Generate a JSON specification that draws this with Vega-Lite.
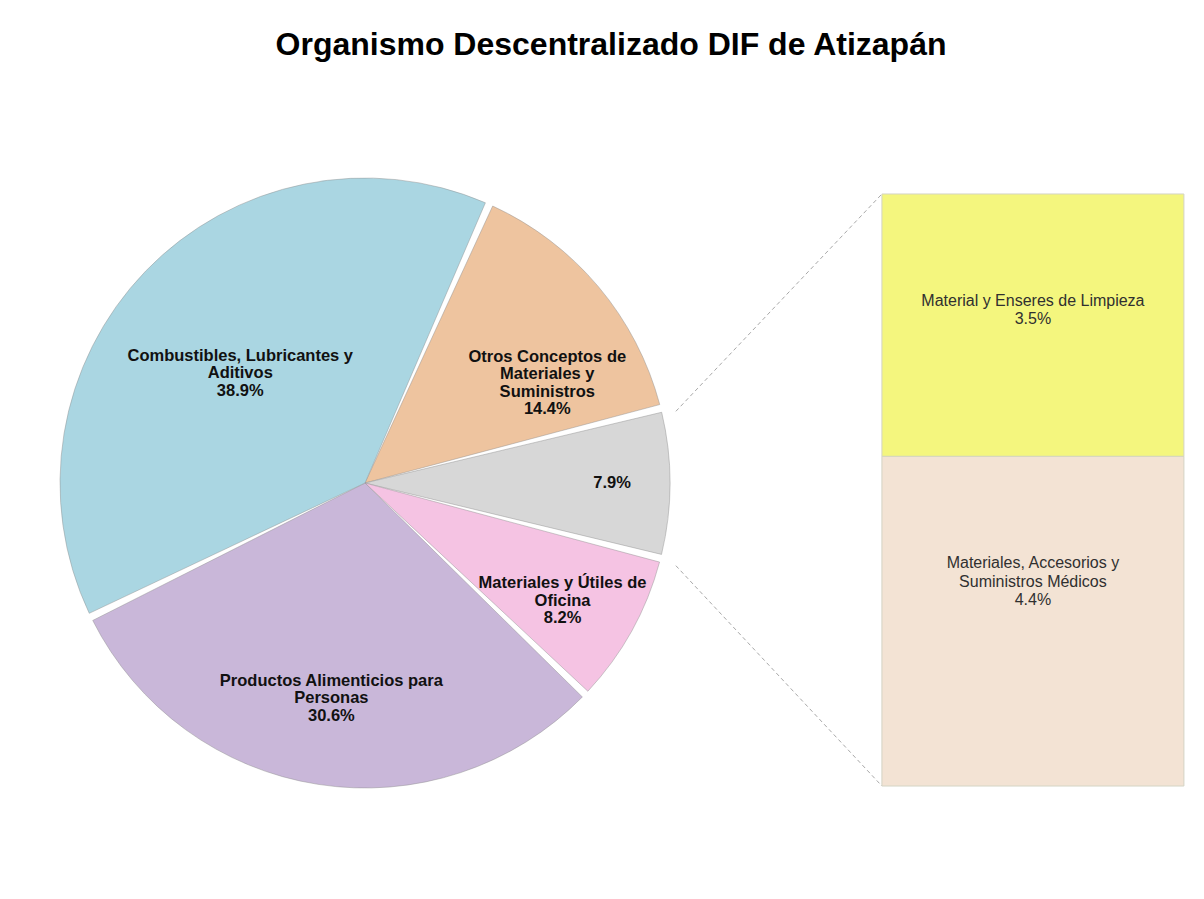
{
  "$schema": "https://vega.github.io/schema/vega-lite/v6.json",
  "background": "#ffffff",
  "padding": {"left": 55, "top": 29, "right": 0, "bottom": 0},
  "title": {
    "text": "Organismo Descentralizado DIF de Atizapán",
    "font": "Liberation Sans",
    "fontSize": 32,
    "fontWeight": "bold",
    "color": "#000000",
    "anchor": "middle",
    "dx": -13,
    "offset": 111
  },
  "config": {
    "view": {"stroke": null},
    "concat": {"spacing": 0},
    "text": {"font": "Liberation Sans"}
  },
  "spacing": 0,
  "resolve": {"scale": {"x": "independent", "y": "independent"}},
  "hconcat": [
    {
      "width": 620,
      "height": 620,
      "data": {
        "values": [
          {"cat": "Otros Conceptos de Materiales y Suministros", "value": 14.4, "orden": 1, "label": "Otros Conceptos de\nMateriales y\nSuministros\n14.4%"},
          {"cat": "Otros", "value": 7.9, "orden": 2, "label": "7.9%"},
          {"cat": "Materiales y Útiles de Oficina", "value": 8.2, "orden": 3, "label": "Materiales y Útiles de\nOficina\n8.2%"},
          {"cat": "Productos Alimenticios para Personas", "value": 30.6, "orden": 4, "label": "Productos Alimenticios para\nPersonas\n30.6%"},
          {"cat": "Combustibles, Lubricantes y Aditivos", "value": 38.9, "orden": 5, "label": "Combustibles, Lubricantes y\nAditivos\n38.9%"}
        ]
      },
      "encoding": {
        "theta": {"field": "value", "type": "quantitative", "stack": true, "scale": {"range": [0.419, 6.702]}},
        "order": {"field": "orden", "type": "quantitative"}
      },
      "layer": [
        {
          "mark": {"type": "arc", "outerRadius": 305, "padAngle": 0.026, "stroke": "#8f8f8f", "strokeOpacity": 0.45, "strokeWidth": 1},
          "encoding": {
            "color": {
              "field": "cat",
              "type": "nominal",
              "legend": null,
              "scale": {
                "domain": ["Combustibles, Lubricantes y Aditivos", "Otros Conceptos de Materiales y Suministros", "Otros", "Materiales y Útiles de Oficina", "Productos Alimenticios para Personas", "Material y Enseres de Limpieza", "Materiales, Accesorios y Suministros Médicos"],
                "range": ["#AAD6E2", "#EEC49F", "#D7D7D7", "#F5C3E3", "#C9B7D9", "#F4F67E", "#F3E3D4"]
              }
            }
          }
        },
        {
          "mark": {"type": "text", "radius": 166, "thetaOffset": -0.047, "dy": -17.5, "fontSize": 16.5, "fontWeight": "bold", "lineHeight": 17.5, "lineBreak": "\n", "color": "#111111"},
          "encoding": {"text": {"condition": {"test": "datum.cat === 'Combustibles, Lubricantes y Aditivos'", "field": "label", "type": "nominal"}, "value": ""}}
        },
        {
          "mark": {"type": "text", "radius": 208, "thetaOffset": 0.197, "dy": -26, "fontSize": 16.5, "fontWeight": "bold", "lineHeight": 17.5, "lineBreak": "\n", "color": "#111111"},
          "encoding": {"text": {"condition": {"test": "datum.cat === 'Otros Conceptos de Materiales y Suministros'", "field": "label", "type": "nominal"}, "value": ""}}
        },
        {
          "mark": {"type": "text", "radius": 247, "fontSize": 16.5, "fontWeight": "bold", "lineHeight": 17.5, "lineBreak": "\n", "color": "#111111"},
          "encoding": {"text": {"condition": {"test": "datum.cat === 'Otros'", "field": "label", "type": "nominal"}, "value": ""}}
        },
        {
          "mark": {"type": "text", "radius": 230, "thetaOffset": 0.031, "dy": -17.5, "fontSize": 16.5, "fontWeight": "bold", "lineHeight": 17.5, "lineBreak": "\n", "color": "#111111"},
          "encoding": {"text": {"condition": {"test": "datum.cat === 'Materiales y Útiles de Oficina'", "field": "label", "type": "nominal"}, "value": ""}}
        },
        {
          "mark": {"type": "text", "radius": 218, "dy": -17.5, "fontSize": 16.5, "fontWeight": "bold", "lineHeight": 17.5, "lineBreak": "\n", "color": "#111111"},
          "encoding": {"text": {"condition": {"test": "datum.cat === 'Productos Alimenticios para Personas'", "field": "label", "type": "nominal"}, "value": ""}}
        }
      ]
    },
    {
      "width": 505,
      "height": 620,
      "layer": [
        {
          "data": {"values": [{}]},
          "mark": {"type": "rule", "color": "#a8a8a8", "strokeWidth": 1, "strokeDash": [4, 3]},
          "encoding": {
            "x": {"datum": -0.024, "type": "quantitative", "scale": {"domain": [0, 1], "nice": false, "zero": false}, "axis": null},
            "x2": {"datum": 0.384},
            "y": {"datum": 5.0, "type": "quantitative", "scale": {"domain": [-0.0934, 8.18], "nice": false, "zero": false}, "axis": null},
            "y2": {"datum": 7.9}
          }
        },
        {
          "data": {"values": [{}]},
          "mark": {"type": "rule", "color": "#a8a8a8", "strokeWidth": 1, "strokeDash": [4, 3]},
          "encoding": {
            "x": {"datum": -0.024, "type": "quantitative"},
            "x2": {"datum": 0.384},
            "y": {"datum": 2.94, "type": "quantitative"},
            "y2": {"datum": 0}
          }
        },
        {
          "data": {
            "values": [
              {"cat": "Materiales, Accesorios y Suministros Médicos", "value": 4.4, "orden": 1, "label": "Materiales, Accesorios y\nSuministros Médicos\n4.4%"},
              {"cat": "Material y Enseres de Limpieza", "value": 3.5, "orden": 2, "label": "Material y Enseres de Limpieza\n3.5%"}
            ]
          },
          "transform": [
            {"stack": "value", "groupby": [], "sort": [{"field": "orden", "order": "ascending"}], "as": ["v0", "v1"]}
          ],
          "layer": [
            {
              "mark": {"type": "rect", "stroke": "#d4d4c4", "strokeWidth": 1},
              "encoding": {
                "x": {"datum": 0.384, "type": "quantitative"},
                "x2": {"datum": 0.982},
                "y": {"field": "v0", "type": "quantitative"},
                "y2": {"field": "v1"},
                "color": {
                  "field": "cat",
                  "type": "nominal",
                  "legend": null,
                  "scale": {
                    "domain": ["Combustibles, Lubricantes y Aditivos", "Otros Conceptos de Materiales y Suministros", "Otros", "Materiales y Útiles de Oficina", "Productos Alimenticios para Personas", "Material y Enseres de Limpieza", "Materiales, Accesorios y Suministros Médicos"],
                    "range": ["#AAD6E2", "#EEC49F", "#D7D7D7", "#F5C3E3", "#C9B7D9", "#F4F67E", "#F3E3D4"]
                  }
                }
              }
            },
            {
              "mark": {"type": "text", "fontSize": 16, "lineHeight": 18.5, "lineBreak": "\n", "color": "#303030", "dy": 107},
              "encoding": {
                "x": {"datum": 0.683, "type": "quantitative"},
                "y": {"field": "v1", "type": "quantitative"},
                "text": {"field": "label", "type": "nominal"}
              }
            }
          ]
        }
      ]
    }
  ]
}
